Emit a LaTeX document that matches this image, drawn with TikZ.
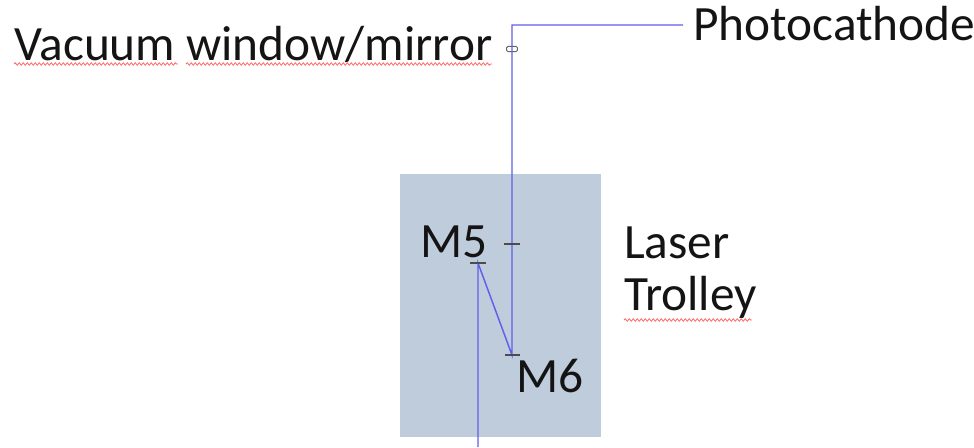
\documentclass[tikz,border=0pt]{standalone}
\usepackage{fontspec}
\setmainfont{Carlito}
\usetikzlibrary{decorations.pathmorphing}
\definecolor{trolley}{RGB}{191,204,220}
\definecolor{beam}{RGB}{95,95,235}
\definecolor{txt}{RGB}{20,20,20}
\begin{document}
\begin{tikzpicture}[x=0.75pt,y=-0.75pt,
  lbl/.style={inner sep=0, anchor=base west, font=\fontsize{37}{44}\selectfont, text=txt},
  beamline/.style={draw=beam, line width=1.1pt},
  markline/.style={draw=black!70, line width=1pt},
  spell/.style={draw=red!60, line width=0.6pt, decorate, decoration={snake, amplitude=0.9pt, segment length=3pt}}]
\useasboundingbox (0,0) rectangle (974,447);
\fill[trolley] (400,174) rectangle (601,437);
% beam coordinates
\coordinate (src) at (478,447);
\coordinate (m5) at (478,263);
\coordinate (m6) at (512,355);
\coordinate (turn) at (512,25);
\coordinate (pc) at (683,25);
\coordinate (win) at (512,49);
\coordinate (lens) at (512,244);
\draw[beamline] (src) -- (m5) -- (m6) -- (turn) -- (pc);
% optic marks
\draw[markline] ([xshift=-6]m5) -- ([xshift=6]m5);
\draw[markline] ([xshift=-5]m6) -- ([xshift=6]m6);
\draw[markline] ([xshift=-6]lens) -- ([xshift=6]lens);
\draw[draw=black!60, line width=0.7pt, rounded corners=1pt] ([xshift=-4,yshift=-2]win) rectangle ([xshift=4,yshift=2]win);
% labels
\node[lbl] (vw) at (14,60) {Vacuum window/mirror};
\node[lbl] (pct) at (693,40) {Photocathode};
\node[lbl] (las) at (624,258) {Laser};
\node[lbl] (tro) at (624,310) {Trolley};
\node[lbl] (l5) at (420,257) {M5};
\node[lbl] (l6) at (516,392) {M6};
% spell-check underlines
\draw[spell] (14,64) -- (178,64);
\draw[spell] (186,64) -- (492,64);
\draw[spell] (624,320) -- (752,320);
\end{tikzpicture}
\end{document}
